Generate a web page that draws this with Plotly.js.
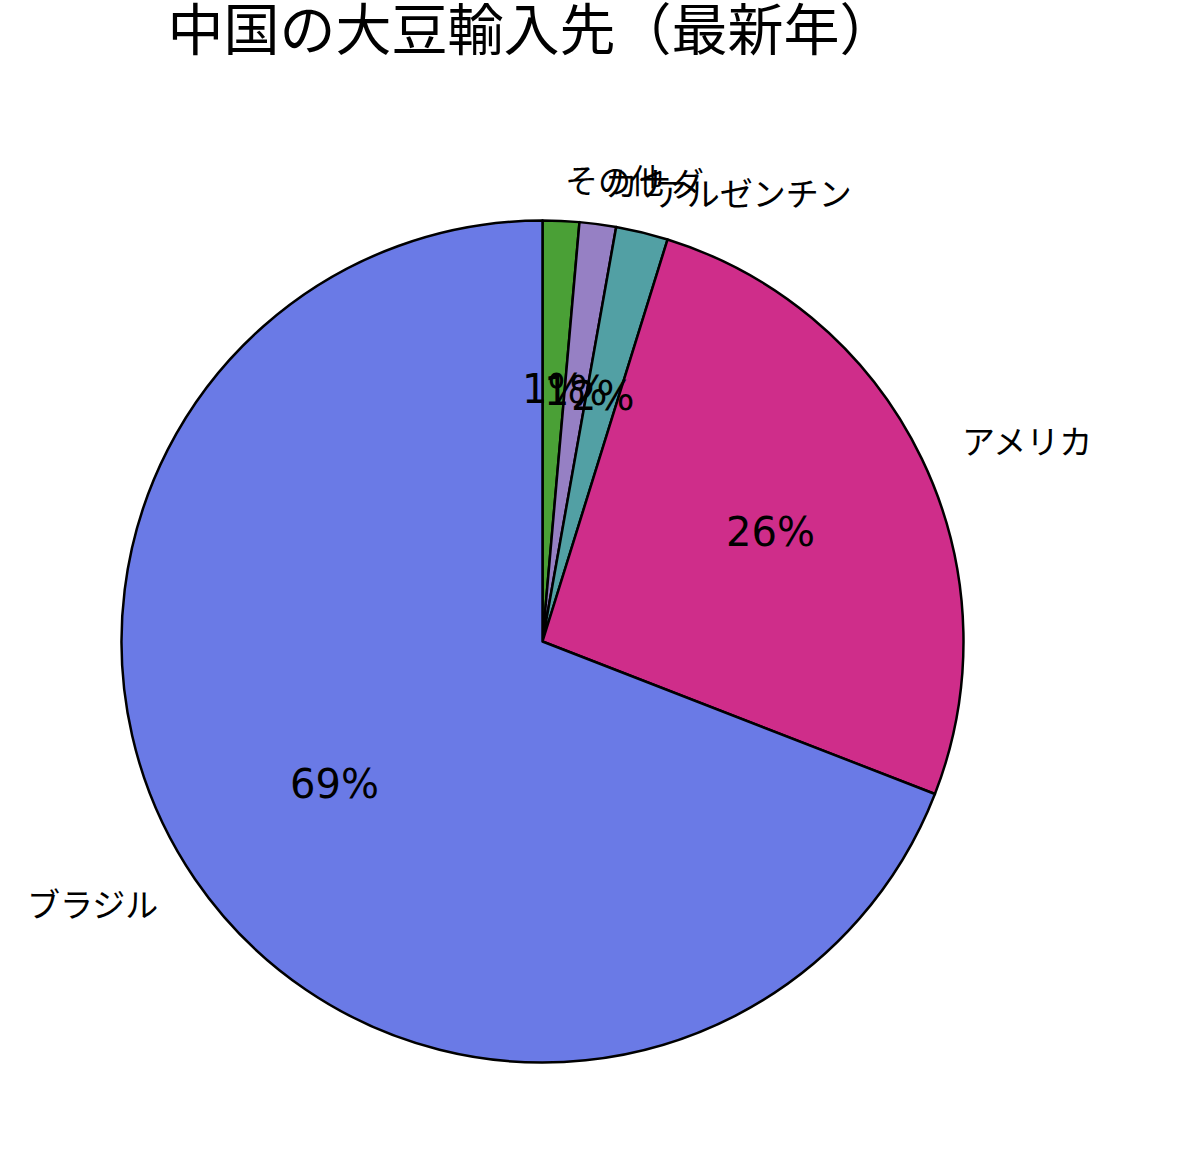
<!DOCTYPE html>
<html>
<head>
<meta charset="utf-8">
<script src="https://cdn.plot.ly/plotly-3.0.1.min.js"></script>
<style>
  html, body { margin: 0; padding: 0; background: #fff; }
  #chart { width: 1200px; height: 1162px; }
</style>
</head>
<body>
<div id="chart"></div>
<script>
const TITLE = "中国の大豆輸入先（最新年）";
const labels = ["その他", "カナダ", "アルゼンチン", "アメリカ", "ブラジル"];
const values = [1.4, 1.4, 2.0, 26.1, 69.1];
const colors = ["#4aa036", "#9680c4", "#52a0a4", "#cf2d8a", "#6a7ae6"];

const W = 1200, H = 1162;
// pie geometry in pixels (matches the domain below)
const cx = 542.5, cy = 641.5, r = 421;

const total = values.reduce((a, b) => a + b, 0);

// label / percent positions in the matplotlib style: clockwise from 12 o'clock
const annotations = [];
let start = 90;
values.forEach((v, i) => {
  const span = v / total * 360;
  const mid = (start - span / 2) * Math.PI / 180;
  start -= span;
  const c = Math.cos(mid), s = Math.sin(mid);
  annotations.push({
    xref: "paper", yref: "paper",
    x: (cx + 1.1 * r * c) / W,
    y: (H - (cy - 1.1 * r * s)) / H,
    text: labels[i],
    showarrow: false,
    xanchor: c > 0 ? "left" : "right",
    yanchor: "middle",
    font: { family: "Noto Sans CJK JP, sans-serif", size: 33, color: "#000" }
  });
  annotations.push({
    xref: "paper", yref: "paper",
    x: (cx + 0.6 * r * c) / W,
    y: (H - (cy - 0.6 * r * s)) / H,
    text: Math.round(v / total * 100) + "%",
    showarrow: false,
    xanchor: "center",
    yanchor: "middle",
    font: { family: "DejaVu Sans, sans-serif", size: 40, color: "#000" }
  });
});

const trace = {
  type: "pie",
  labels: labels,
  values: values,
  sort: false,
  direction: "clockwise",
  rotation: 0,
  textinfo: "none",
  hoverinfo: "label+percent",
  marker: { colors: colors, line: { color: "#000", width: 2.5 } },
  domain: {
    x: [(cx - r) / W, (cx + r) / W],
    y: [(H - cy - r) / H, (H - cy + r) / H]
  },
  showlegend: false
};

const layout = {
  width: W,
  height: H,
  margin: { l: 0, r: 0, t: 0, b: 0 },
  paper_bgcolor: "#fff",
  title: {
    text: TITLE,
    x: 0.443, xanchor: "center",
    y: 1 - 30 / H, yanchor: "middle",
    font: { family: "Noto Sans CJK JP, sans-serif", size: 56, color: "#000" }
  },
  annotations: annotations,
  showlegend: false
};

Plotly.newPlot("chart", [trace], layout, { displayModeBar: false, staticPlot: true });
</script>
</body>
</html>
